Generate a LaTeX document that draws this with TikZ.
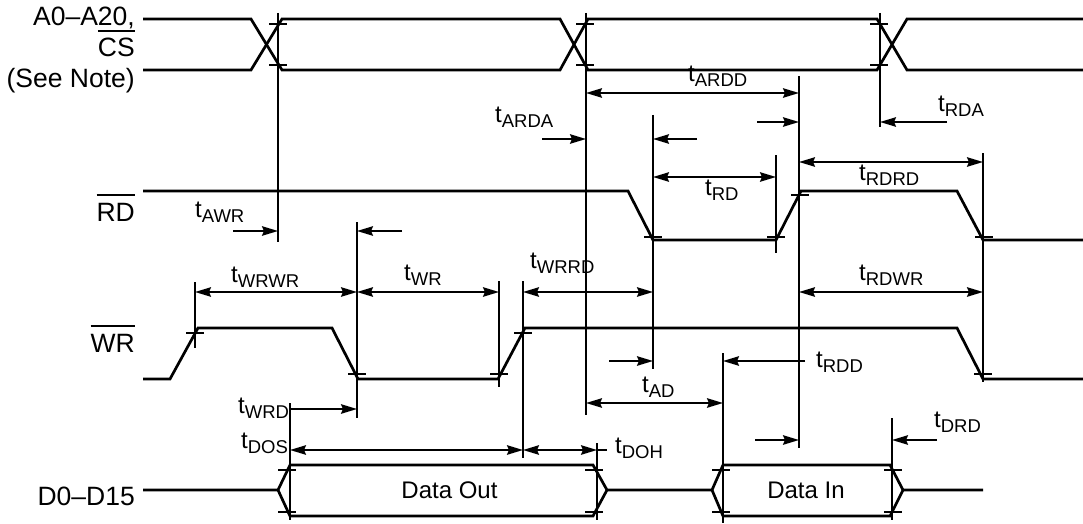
\documentclass[tikz,border=0pt]{standalone}
\usepackage{fontspec}
\setmainfont{Liberation Sans}
\usetikzlibrary{arrows.meta}
\newcommand{\ovl}[1]{\vbox{\hrule height 1.8pt\kern 6.5pt\hbox{#1}}}
\newcommand{\tsb}[1]{t\raisebox{-5pt}{\fontsize{18.5}{20}\selectfont #1}}
\begin{document}
\begin{tikzpicture}[x=1pt,y=-1pt,
  sig/.style={line width=2.7pt},
  vline/.style={line width=1.8pt},
  tk/.style={line width=1.8pt},
  dim/.style={line width=1.8pt},
  lbl/.style={inner sep=0pt, font=\fontsize{26.5}{30}\selectfont, anchor=base east},
  tl/.style={inner sep=0pt, font=\fontsize{24}{28}\selectfont, anchor=base west},
  dl/.style={inner sep=0pt, font=\fontsize{24}{28}\selectfont, anchor=base},
  >={Stealth[length=16pt,width=9.5pt,inset=2pt]}]
\useasboundingbox (0,0) rectangle (1083,524);

% left labels
\node[lbl] (la1) at (135,26) {A0–A20,};
\node[lbl] (la2) at (135,57) {\ovl{CS}};
\node[lbl] (la3) at (135,88) {(See Note)};
\node[lbl] (lrd) at (135,221) {\ovl{RD}};
\node[lbl] (lwr) at (135,352) {\ovl{WR}};
\node[lbl] (ld) at (135,505) {D0–D15};

% address bus
\draw[sig] (143,19)--(251,19)--(282,70)--(560,70)--(588,19)--(877,19)--(907,70)--(1083,70);
\draw[sig] (143,70)--(251,70)--(282,19)--(560,19)--(588,70)--(877,70)--(907,19)--(1083,19);
% RD
\draw[sig] (143,191)--(628,191)--(653,240)--(776,240)--(801,191)--(957,191)--(983,240)--(1083,240);
% WR
\draw[sig] (143,379)--(170,379)--(198,328)--(332,328)--(358,379)--(498,379)--(525,328)--(957,328)--(983,379)--(1083,379);
% data bus
\draw[sig] (143,490)--(278,490)--(290,465)--(593,465)--(607,490)--(712,490)--(723,465)--(890,465)--(903,490)--(983,490);
\draw[sig] (278,490)--(290,516)--(593,516)--(607,490);
\draw[sig] (712,490)--(723,516)--(890,516)--(903,490);
\node[dl] (dout) at (449.5,498) {Data Out};
\node[dl] (din) at (806,498) {Data In};

% ticks
\foreach \x/\y in {278/24,278/65,585/24,585/65,879/24,879/65,
                   653/237,776/237,800/195,984/237,
                   195/333,357/374,499/374,523/333,983/374,
                   287/470,287/512,594/470,594/512,721/470,721/512,893/470,893/512}
  \draw[tk] ({\x-9},\y) -- ({\x+9},\y);

% vertical reference lines
\draw[vline] (278,13)--(278,242);
\draw[vline] (586,13)--(586,415);
\draw[vline] (880,13)--(880,127);
\draw[vline] (799,76)--(799,448);
\draw[vline] (653,115)--(653,369);
\draw[vline] (776,155)--(776,253);
\draw[vline] (983,153)--(983,382);
\draw[vline] (357,222)--(357,418);
\draw[vline] (195,282)--(195,348);
\draw[vline] (499,281)--(499,387);
\draw[vline] (523,281)--(523,458);
\draw[vline] (290,403)--(290,520);
\draw[vline] (597,443)--(597,520);
\draw[vline] (723,353)--(723,523);
\draw[vline] (892,418)--(892,520);

% dimension arrows
\draw[dim,->] (233,231)--(278,231);
\draw[dim,->] (402,231)--(357,231);
\draw[dim,<->] (586,93)--(799,93);
\draw[dim,->] (542,139)--(586,139);
\draw[dim,->] (697,139)--(653,139);
\draw[dim,->] (757,122)--(799,122);
\draw[dim,->] (947,122)--(880,122);
\draw[dim,<->] (653,177)--(776,177);
\draw[dim,<->] (799,162)--(983,162);
\draw[dim,<->] (195,292)--(357,292);
\draw[dim,<->] (357,292)--(499,292);
\draw[dim,<->] (523,292)--(653,292);
\draw[dim,<->] (799,292)--(983,292);
\draw[dim,->] (609,361)--(653,361);
\draw[dim,->] (805,361)--(723,361);
\draw[dim,<->] (586,403)--(723,403);
\draw[dim,->] (290,409)--(357,409);
\draw[dim,<->] (290,450)--(523,450);
\draw[dim,<->] (523,450)--(597,450);
\draw[dim] (597,450)--(607,450);
\draw[dim,->] (755,440)--(799,440);
\draw[dim,->] (937,440)--(892,440);

% timing labels
\node[tl] (tardd) at (688,82) {\tsb{ARDD}};
\node[tl] (tarda) at (495,123) {\tsb{ARDA}};
\node[tl] (trda) at (938,112) {\tsb{RDA}};
\node[tl] (trd) at (705,195) {\tsb{RD}};
\node[tl] (trdrd) at (859,180) {\tsb{RDRD}};
\node[tl] (tawr) at (195,217) {\tsb{AWR}};
\node[tl] (twrwr) at (231,282) {\tsb{WRWR}};
\node[tl] (twr) at (404,280) {\tsb{WR}};
\node[tl] (twrrd) at (530,268) {\tsb{WRRD}};
\node[tl] (trdwr) at (859,280) {\tsb{RDWR}};
\node[tl] (tad) at (642,392) {\tsb{AD}};
\node[tl] (trdd) at (816,367) {\tsb{RDD}};
\node[tl] (tdrd) at (934,427) {\tsb{DRD}};
\node[tl] (twrd) at (238,413) {\tsb{WRD}};
\node[tl] (tdos) at (241,448) {\tsb{DOS}};
\node[tl] (tdoh) at (615,453) {\tsb{DOH}};
\end{tikzpicture}
\end{document}
